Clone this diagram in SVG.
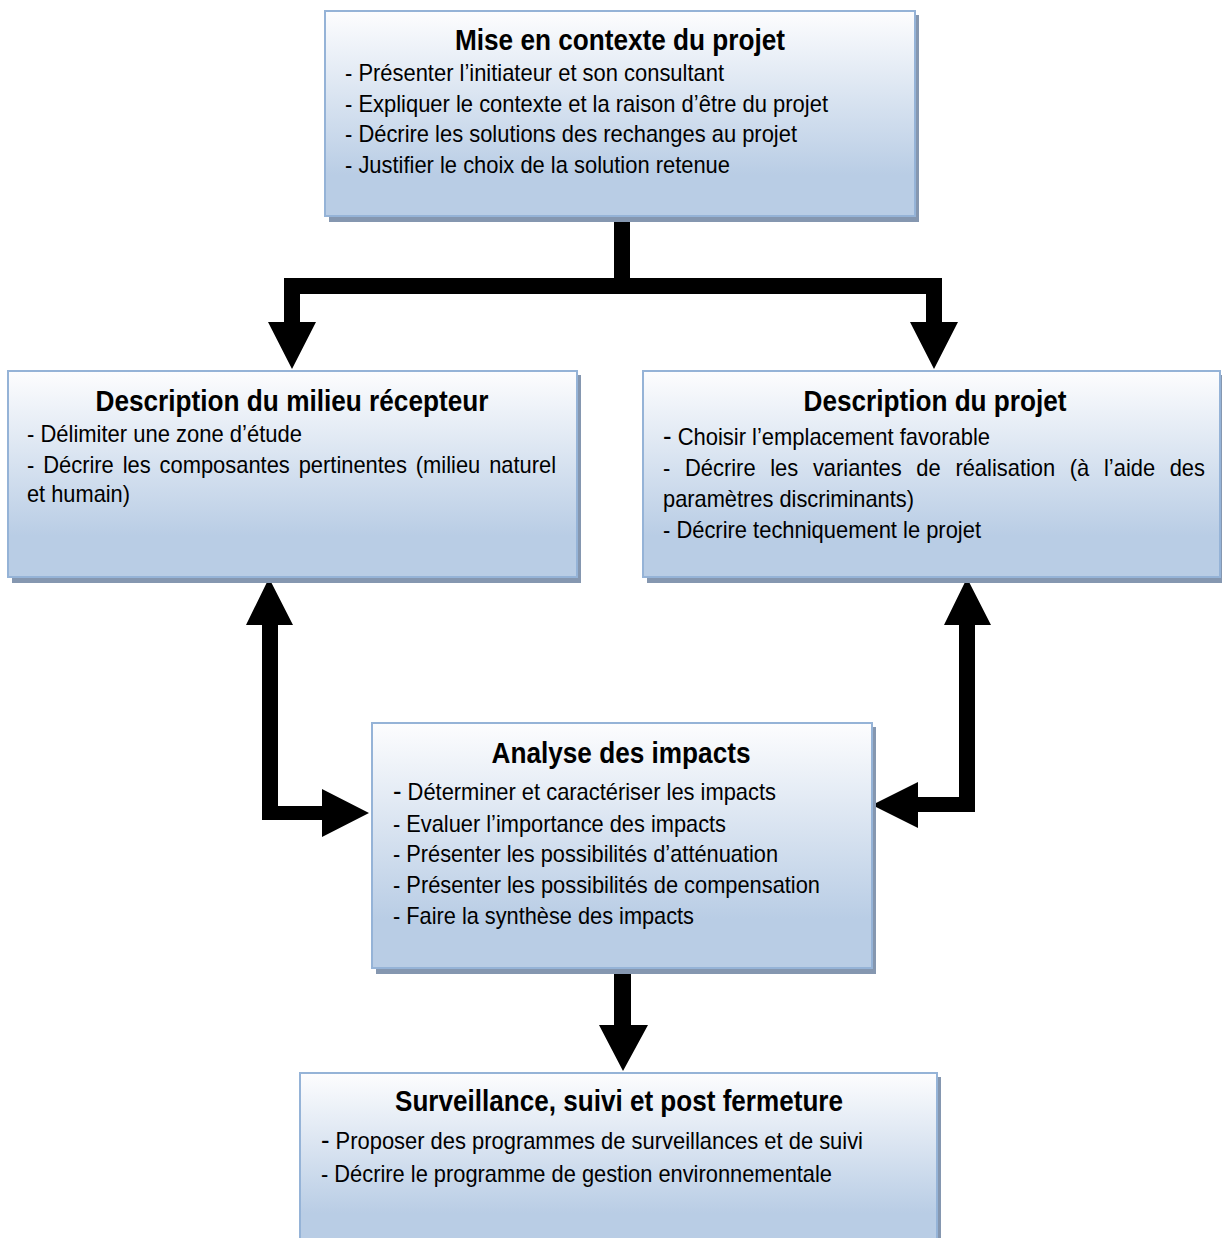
<svg xmlns="http://www.w3.org/2000/svg" width="1222" height="1238" viewBox="0 0 1222 1238">
<defs>
<linearGradient id="boxGrad" x1="0" y1="0" x2="0" y2="1">
<stop offset="0" stop-color="#fdfdfe"/>
<stop offset="0.8" stop-color="#b9cde5"/>
<stop offset="1" stop-color="#b9cde5"/>
</linearGradient>
<style>
.shadow{fill:#8597b0;}
.box{fill:url(#boxGrad);stroke:#95b3d7;stroke-width:2;}
.title{font-family:"Liberation Sans",Arial,sans-serif;font-weight:bold;font-size:29px;fill:#000;text-anchor:middle;}
.txt{font-family:"Liberation Sans",Arial,sans-serif;font-size:24px;fill:#000;}
.big{font-size:28px;}
.arrow{fill:#000;}
</style>
</defs>

<g id="connectors">
<polygon class="arrow" points="614,216 630,216 630,278 942,278 942,322 958,322 934,369 910,322 926,322 926,294 300,294 300,322 316,322 292,369 268,322 284,322 284,278 614,278"/>
<polygon class="arrow" points="269,578 293,625 278,625 278,806 322,806 322,789 369,813 322,837 322,820 262,820 262,625 246,625"/>
<polygon class="arrow" points="967,578 991,625 975,625 975,812 918,812 918,828 872,805 918,782 918,797 959,797 959,625 944,625"/>
<polygon class="arrow" points="614,972 631,972 631,1025 648,1025 623,1071 599,1025 614,1025"/>
</g>

<g id="node-contexte">
<rect class="shadow" x="329" y="15" width="590" height="207"/>
<rect class="box" x="325" y="11" width="590" height="205"/>
<text class="title" x="620" y="50" textLength="330" lengthAdjust="spacingAndGlyphs">Mise en contexte du projet</text>
<text class="txt" x="345" y="81" textLength="379" lengthAdjust="spacingAndGlyphs">- Présenter l’initiateur et son consultant</text>
<text class="txt" x="345" y="112" textLength="483" lengthAdjust="spacingAndGlyphs">- Expliquer le contexte et la raison d’être du projet</text>
<text class="txt" x="345" y="142" textLength="452" lengthAdjust="spacingAndGlyphs">- Décrire les solutions des rechanges au projet</text>
<text class="txt" x="345" y="173" textLength="385" lengthAdjust="spacingAndGlyphs">- Justifier le choix de la solution retenue</text>
</g>

<g id="node-milieu">
<rect class="shadow" x="12" y="375" width="569" height="208"/>
<rect class="box" x="8" y="371" width="569" height="206"/>
<text class="title" x="292" y="411" textLength="393" lengthAdjust="spacingAndGlyphs">Description du milieu récepteur</text>
<text class="txt" x="27" y="442" textLength="275" lengthAdjust="spacingAndGlyphs">- Délimiter une zone d’étude</text>
<text class="txt" y="473"><tspan x="27" textLength="7.3" lengthAdjust="spacingAndGlyphs">-</tspan> <tspan x="43.2" textLength="70.6" lengthAdjust="spacingAndGlyphs">Décrire</tspan> <tspan x="122.7" textLength="28" lengthAdjust="spacingAndGlyphs">les</tspan> <tspan x="159.6" textLength="130.2" lengthAdjust="spacingAndGlyphs">composantes</tspan> <tspan x="298.7" textLength="108.3" lengthAdjust="spacingAndGlyphs">pertinentes</tspan> <tspan x="415.8" textLength="64.5" lengthAdjust="spacingAndGlyphs">(milieu</tspan> <tspan x="489.2" textLength="66.9" lengthAdjust="spacingAndGlyphs">naturel</tspan></text>
<text class="txt" x="27" y="502" textLength="103" lengthAdjust="spacingAndGlyphs">et humain)</text>
</g>

<g id="node-projet">
<rect class="shadow" x="647" y="375" width="577" height="208"/>
<rect class="box" x="643" y="371" width="577" height="206"/>
<text class="title" x="935" y="411" textLength="263" lengthAdjust="spacingAndGlyphs">Description du projet</text>
<text class="txt" x="663" y="445" textLength="327" lengthAdjust="spacingAndGlyphs"><tspan class="big">-</tspan> Choisir l’emplacement favorable</text>
<text class="txt" y="476"><tspan x="663" textLength="7.3" lengthAdjust="spacingAndGlyphs">-</tspan> <tspan x="685" textLength="70.6" lengthAdjust="spacingAndGlyphs">Décrire</tspan> <tspan x="770.2" textLength="28" lengthAdjust="spacingAndGlyphs">les</tspan> <tspan x="812.9" textLength="88.8" lengthAdjust="spacingAndGlyphs">variantes</tspan> <tspan x="916.3" textLength="24.4" lengthAdjust="spacingAndGlyphs">de</tspan> <tspan x="955.4" textLength="99.8" lengthAdjust="spacingAndGlyphs">réalisation</tspan> <tspan x="1069.8" textLength="19.5" lengthAdjust="spacingAndGlyphs">(à</tspan> <tspan x="1104" textLength="51.1" lengthAdjust="spacingAndGlyphs">l’aide</tspan> <tspan x="1169.7" textLength="35.3" lengthAdjust="spacingAndGlyphs">des</tspan></text>
<text class="txt" x="663" y="507" textLength="251" lengthAdjust="spacingAndGlyphs">paramètres discriminants)</text>
<text class="txt" x="663" y="538" textLength="318" lengthAdjust="spacingAndGlyphs">- Décrire techniquement le projet</text>
</g>

<g id="node-analyse">
<rect class="shadow" x="376" y="727" width="500" height="247"/>
<rect class="box" x="372" y="723" width="500" height="245"/>
<text class="title" x="621" y="763" textLength="259" lengthAdjust="spacingAndGlyphs">Analyse des impacts</text>
<text class="txt" x="393" y="800" textLength="383" lengthAdjust="spacingAndGlyphs"><tspan class="big">-</tspan> Déterminer et caractériser les impacts</text>
<text class="txt" x="393" y="832" textLength="333" lengthAdjust="spacingAndGlyphs">- Evaluer l’importance des impacts</text>
<text class="txt" x="393" y="862" textLength="385" lengthAdjust="spacingAndGlyphs">- Présenter les possibilités d’atténuation</text>
<text class="txt" x="393" y="893" textLength="427" lengthAdjust="spacingAndGlyphs">- Présenter les possibilités de compensation</text>
<text class="txt" x="393" y="924" textLength="301" lengthAdjust="spacingAndGlyphs">- Faire la synthèse des impacts</text>
</g>

<g id="node-surveillance">
<rect class="shadow" x="304" y="1077" width="637" height="175"/>
<rect class="box" x="300" y="1073" width="637" height="175"/>
<text class="title" x="619" y="1111" textLength="448" lengthAdjust="spacingAndGlyphs">Surveillance, suivi et post fermeture</text>
<text class="txt" x="321" y="1149" textLength="542" lengthAdjust="spacingAndGlyphs"><tspan class="big">-</tspan> Proposer des programmes de surveillances et de suivi</text>
<text class="txt" x="321" y="1182" textLength="511" lengthAdjust="spacingAndGlyphs">- Décrire le programme de gestion environnementale</text>
</g>
</svg>
